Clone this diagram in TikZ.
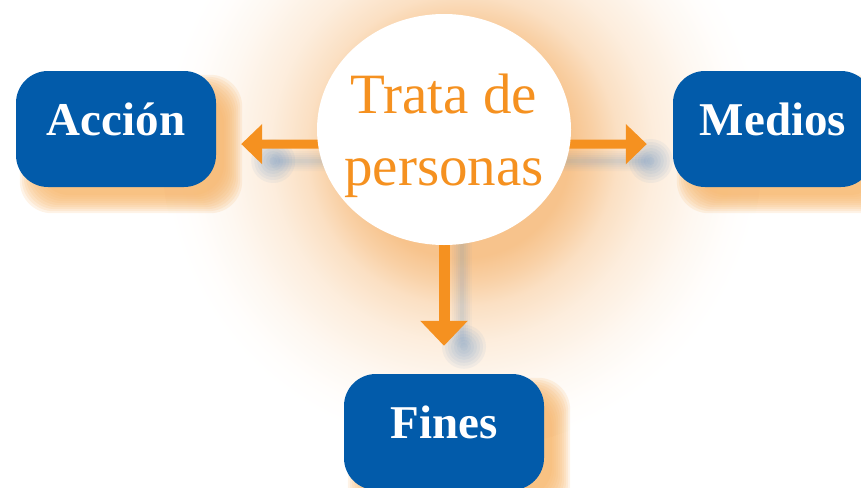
\documentclass[tikz,border=0pt]{standalone}
\usepackage{fontspec}
\setmainfont{Liberation Serif}
\usetikzlibrary{shapes.geometric,arrows.meta,calc}
\definecolor{boxblue}{RGB}{2,91,170}
\definecolor{arrc}{RGB}{245,145,32}
\definecolor{glowc}{RGB}{247,195,140}
\definecolor{boxsh}{RGB}{247,181,105}
\definecolor{shb}{RGB}{90,140,195}
\pgfdeclareradialshading{glowshade}{\pgfpoint{0bp}{0bp}}{color(0bp)=(glowc); color(9bp)=(glowc); color(11bp)=(glowc!78!white); color(13bp)=(glowc!52!white); color(16bp)=(glowc!30!white); color(20bp)=(glowc!12!white); color(23bp)=(glowc!3!white); color(25bp)=(white); color(50bp)=(white)}
\pgfdeclarelayer{back}
\pgfsetlayers{back,main}
\tikzset{
  box/.style={rectangle, rounded corners=32pt, fill=boxblue, text=white,
    minimum width=200pt, minimum height=116pt, inner sep=0pt,
    text height=64pt, text depth=52pt, font=\fontsize{47}{56}\selectfont\bfseries},
  hub/.style={ellipse, fill=white, minimum width=254pt, minimum height=231pt,
    inner sep=0pt, text=arrc, font=\fontsize{57}{72}\selectfont},
  harr/.style={draw=arrc, line width=9pt, -{Triangle[length=21pt,width=39pt]}},
  varr/.style={draw=arrc, line width=11pt, -{Triangle[length=25pt,width=46pt]}},
  shline/.style={draw=shb, line cap=round},
  shspot/.style={fill=shb, opacity=0.07},
  bsh/.style={fill=boxsh, opacity=0.16, rounded corners=32pt},
}
\begin{document}
\begin{tikzpicture}[x=1pt,y=-1pt]
\useasboundingbox (0,0) rectangle (861,487);
% nodes
\node[hub] (c) at (444,129.5) {\vbox to 0pt{\offinterlineskip\vskip-16.5pt
  \hbox to 0pt{\hss\smash{Trata de}\hss}\vskip72pt
  \hbox to 0pt{\hss\smash{personas}\hss}\vss}};
\node[box] (acc) at (116,129) {Acción};
\node[box] (med) at (773,129) {Medios};
\node[box] (fin) at (444,432) {Fines};
\begin{pgfonlayer}{back}
  % glow around the hub
  \shade[shading=glowshade] (462,150) circle (300);
  % box shadows
  \foreach \n in {acc,med,fin}{
    \foreach \a/\b in {4/26,6/24,8/22,10/20,12/18,14/16,16/14,18/12,20/10,22/8}{
      \fill[bsh] ($(\n.north west)+(\a,\a)$) rectangle ($(\n.south east)+(\b,\b)$);
    }
  }
  % arrow shadows
  \foreach \w/\o in {4/0.06,8/0.05,12/0.05,16/0.04,20/0.04}{
    \draw[shline, line width=\w pt, opacity=\o] ($(c.center)+(18,32)$) -- ($(acc.east)+(64,32)$);
    \draw[shline, line width=\w pt, opacity=\o] ($(c.center)+(18,32)$) -- ($(med.west)+(-29,32)$);
    \draw[shline, line width=\w pt, opacity=\o] ($(c.center)+(18,17)$) -- ($(fin.north)+(18,-36)$);
  }
  \foreach \r in {4,7,10,13,16,19,22}{
    \fill[shspot] ($(acc.east)+(57,32)$) circle (\r);
    \fill[shspot] ($(med.west)+(-22,32)$) circle (\r);
    \fill[shspot] ($(fin.north)+(20,-27)$) circle (\r);
  }
  % connectors
  \draw[harr, shorten >=25pt] ([yshift=-15pt]c.center) -- ([yshift=-15pt]acc.east);
  \draw[harr, shorten >=26pt] ([yshift=-15pt]c.center) -- ([yshift=-15pt]med.west);
  \draw[varr, shorten >=28pt] (c.center) -- (fin.north);
\end{pgfonlayer}
\end{tikzpicture}
\end{document}
